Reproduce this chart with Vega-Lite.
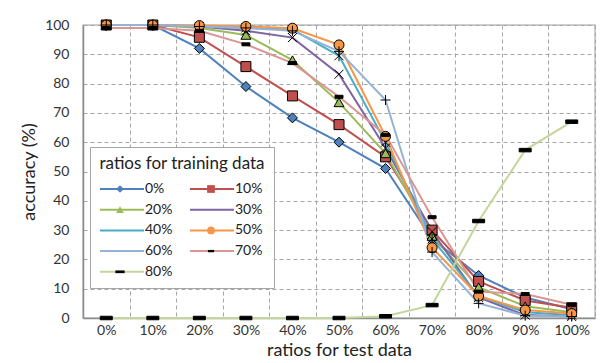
{
  "$schema": "https://vega.github.io/schema/vega-lite/v6.json",
  "width": 512,
  "height": 293,
  "autosize": {"type": "none"},
  "padding": {"left": 83, "top": 25, "right": 8, "bottom": 45},
  "background": "white",
  "data": {"values": [
    {"train":"0%","test":"0%","acc":100},{"train":"0%","test":"10%","acc":100},{"train":"0%","test":"20%","acc":92},{"train":"0%","test":"30%","acc":79},{"train":"0%","test":"40%","acc":68.3},{"train":"0%","test":"50%","acc":60},{"train":"0%","test":"60%","acc":51},{"train":"0%","test":"70%","acc":27},{"train":"0%","test":"80%","acc":14.5},{"train":"0%","test":"90%","acc":7},{"train":"0%","test":"100%","acc":3},
    {"train":"10%","test":"0%","acc":100},{"train":"10%","test":"10%","acc":100},{"train":"10%","test":"20%","acc":95.8},{"train":"10%","test":"30%","acc":85.8},{"train":"10%","test":"40%","acc":75.8},{"train":"10%","test":"50%","acc":66},{"train":"10%","test":"60%","acc":55},{"train":"10%","test":"70%","acc":30},{"train":"10%","test":"80%","acc":12.5},{"train":"10%","test":"90%","acc":6},{"train":"10%","test":"100%","acc":3.5},
    {"train":"20%","test":"0%","acc":100},{"train":"20%","test":"10%","acc":100},{"train":"20%","test":"20%","acc":99},{"train":"20%","test":"30%","acc":96.6},{"train":"20%","test":"40%","acc":88},{"train":"20%","test":"50%","acc":73.6},{"train":"20%","test":"60%","acc":56.2},{"train":"20%","test":"70%","acc":28},{"train":"20%","test":"80%","acc":10.5},{"train":"20%","test":"90%","acc":4},{"train":"20%","test":"100%","acc":2},
    {"train":"30%","test":"0%","acc":100},{"train":"30%","test":"10%","acc":100},{"train":"30%","test":"20%","acc":99.5},{"train":"30%","test":"30%","acc":98},{"train":"30%","test":"40%","acc":95.7},{"train":"30%","test":"50%","acc":83.2},{"train":"30%","test":"60%","acc":58},{"train":"30%","test":"70%","acc":29.5},{"train":"30%","test":"80%","acc":7},{"train":"30%","test":"90%","acc":1},{"train":"30%","test":"100%","acc":0.5},
    {"train":"40%","test":"0%","acc":100},{"train":"40%","test":"10%","acc":100},{"train":"40%","test":"20%","acc":99.5},{"train":"40%","test":"30%","acc":99},{"train":"40%","test":"40%","acc":98.5},{"train":"40%","test":"50%","acc":89.5},{"train":"40%","test":"60%","acc":60},{"train":"40%","test":"70%","acc":27},{"train":"40%","test":"80%","acc":7.5},{"train":"40%","test":"90%","acc":2},{"train":"40%","test":"100%","acc":1},
    {"train":"50%","test":"0%","acc":100},{"train":"50%","test":"10%","acc":100},{"train":"50%","test":"20%","acc":99.8},{"train":"50%","test":"30%","acc":99.5},{"train":"50%","test":"40%","acc":98.9},{"train":"50%","test":"50%","acc":93.2},{"train":"50%","test":"60%","acc":62},{"train":"50%","test":"70%","acc":24},{"train":"50%","test":"80%","acc":7.5},{"train":"50%","test":"90%","acc":2.7},{"train":"50%","test":"100%","acc":1.5},
    {"train":"60%","test":"0%","acc":100},{"train":"60%","test":"10%","acc":100},{"train":"60%","test":"20%","acc":99.5},{"train":"60%","test":"30%","acc":99},{"train":"60%","test":"40%","acc":98},{"train":"60%","test":"50%","acc":91},{"train":"60%","test":"60%","acc":74.4},{"train":"60%","test":"70%","acc":22.5},{"train":"60%","test":"80%","acc":5},{"train":"60%","test":"90%","acc":0.8},{"train":"60%","test":"100%","acc":0.5},
    {"train":"70%","test":"0%","acc":99},{"train":"70%","test":"10%","acc":99},{"train":"70%","test":"20%","acc":98},{"train":"70%","test":"30%","acc":93.4},{"train":"70%","test":"40%","acc":87},{"train":"70%","test":"50%","acc":75.5},{"train":"70%","test":"60%","acc":62.5},{"train":"70%","test":"70%","acc":34.4},{"train":"70%","test":"80%","acc":9},{"train":"70%","test":"90%","acc":8.2},{"train":"70%","test":"100%","acc":4.5},
    {"train":"80%","test":"0%","acc":0},{"train":"80%","test":"10%","acc":0},{"train":"80%","test":"20%","acc":0},{"train":"80%","test":"30%","acc":0},{"train":"80%","test":"40%","acc":0},{"train":"80%","test":"50%","acc":0},{"train":"80%","test":"60%","acc":0.6},{"train":"80%","test":"70%","acc":4.4},{"train":"80%","test":"80%","acc":33.1},{"train":"80%","test":"90%","acc":57.3},{"train":"80%","test":"100%","acc":67}
  ]},
  "encoding": {
    "x": {
      "field": "test", "type": "ordinal", "bandPosition": 0.5,
      "scale": {"type": "band", "paddingInner": 0, "paddingOuter": 0,
        "domain": ["0%","10%","20%","30%","40%","50%","60%","70%","80%","90%","100%"]},
      "axis": {"title": "ratios for test data", "labelAngle": 0, "grid": true, "tickBand": "extent",
        "labelPadding": 5, "titlePadding": 4}
    },
    "y": {
      "field": "acc", "type": "quantitative",
      "scale": {"domain": [0, 100], "nice": false},
      "axis": {"title": "accuracy (%)", "values": [0,10,20,30,40,50,60,70,80,90,100], "grid": true,
        "labelPadding": 14, "titlePadding": 6}
    }
  },
  "layer": [
    {
      "mark": {"type": "line", "strokeWidth": 2},
      "encoding": {
        "color": {
          "field": "train", "type": "nominal",
          "scale": {"domain": ["0%","10%","20%","30%","40%","50%","60%","70%","80%"],
            "range": ["#4F81BD","#C0504D","#9BBB59","#8064A2","#4BACC6","#F79646","#95B3D7","#DA9694","#C3D69B"]},
          "legend": {"orient": "none", "legendX": 7, "legendY": 122, "title": "ratios for training data",
            "direction": "horizontal", "columns": 2, "columnPadding": 13, "rowPadding": 6.7, "padding": 9,
            "strokeColor": "#A6A6A6", "fillColor": "white",
            "symbolType": "M-4.4,0H4.4", "symbolSize": 100, "symbolStrokeWidth": 2, "symbolOffset": 14,
            "labelOffset": 16, "labelFontSize": 14, "labelColor": "#222",
            "titleAnchor": "middle", "titlePadding": 9, "titleFontSize": 17, "titleFontWeight": "normal", "titleColor": "#222",
            "zindex": 0}
        }
      }
    },
    {
      "mark": {"type": "point", "filled": true, "size": 100, "stroke": "black", "strokeWidth": 1, "opacity": 1},
      "encoding": {
        "fill": {
          "field": "train", "type": "nominal",
          "scale": {"range": ["#4F81BD","#C0504D","#9BBB59","#8064A2","#4BACC6","#F79646","#95B3D7","#000000","#000000"]},
          "legend": {"orient": "none", "legendX": 7, "legendY": 148, "title": null,
            "direction": "horizontal", "columns": 2, "columnPadding": 47, "rowPadding": 6.7, "padding": 9,
            "symbolSize": 60, "symbolStrokeWidth": 1, "symbolStrokeColor": "black", "symbolOffset": 14,
            "labelOffset": 16, "labelFontSize": 14, "labelExpr": "''", "zindex": 1,
            "encode": {"symbols": {"update": {"stroke": {"value": "black"}, "strokeWidth": {"value": 1}}}}}
        },
        "shape": {
          "field": "train", "type": "nominal",
          "scale": {"range": ["diamond","square","triangle-up","M-0.9,-0.9L0.9,0.9M-0.9,0.9L0.9,-0.9","M-0.9,-0.9L0.9,0.9M-0.9,0.9L0.9,-0.9M0,-1.1L0,1.1","circle","M-1,0L1,0M0,-1L0,1","M-0.8,-0.3L0.8,-0.3L0.8,0.3L-0.8,0.3Z","M-1.2,-0.35L1.2,-0.35L1.2,0.35L-1.2,0.35Z"]},
          "legend": {"orient": "none", "legendX": 7, "legendY": 148, "title": null,
            "direction": "horizontal", "columns": 2, "columnPadding": 47, "rowPadding": 6.7, "padding": 9,
            "symbolSize": 60, "symbolStrokeWidth": 1, "symbolStrokeColor": "black", "symbolOffset": 14,
            "labelOffset": 16, "labelFontSize": 14, "labelExpr": "''", "zindex": 1,
            "encode": {"symbols": {"update": {"stroke": {"value": "black"}, "strokeWidth": {"value": 1}}}}}
        }
      }
    }
  ],
  "config": {
    "font": "Lato",
    "view": {"stroke": "#BFBFBF", "strokeWidth": 1.5},
    "axis": {"labelFont": "Lato", "titleFont": "Lato", "labelFontSize": 14, "titleFontSize": 18,
      "titleFontWeight": "normal", "labelColor": "#333", "titleColor": "#222",
      "domainColor": "#8C8C8C", "domainWidth": 1.5, "ticks": false,
      "gridColor": "#A6A6A6", "gridDash": [4, 3], "gridWidth": 1},
    "legend": {"labelFont": "Lato", "titleFont": "Lato"}
  }
}
